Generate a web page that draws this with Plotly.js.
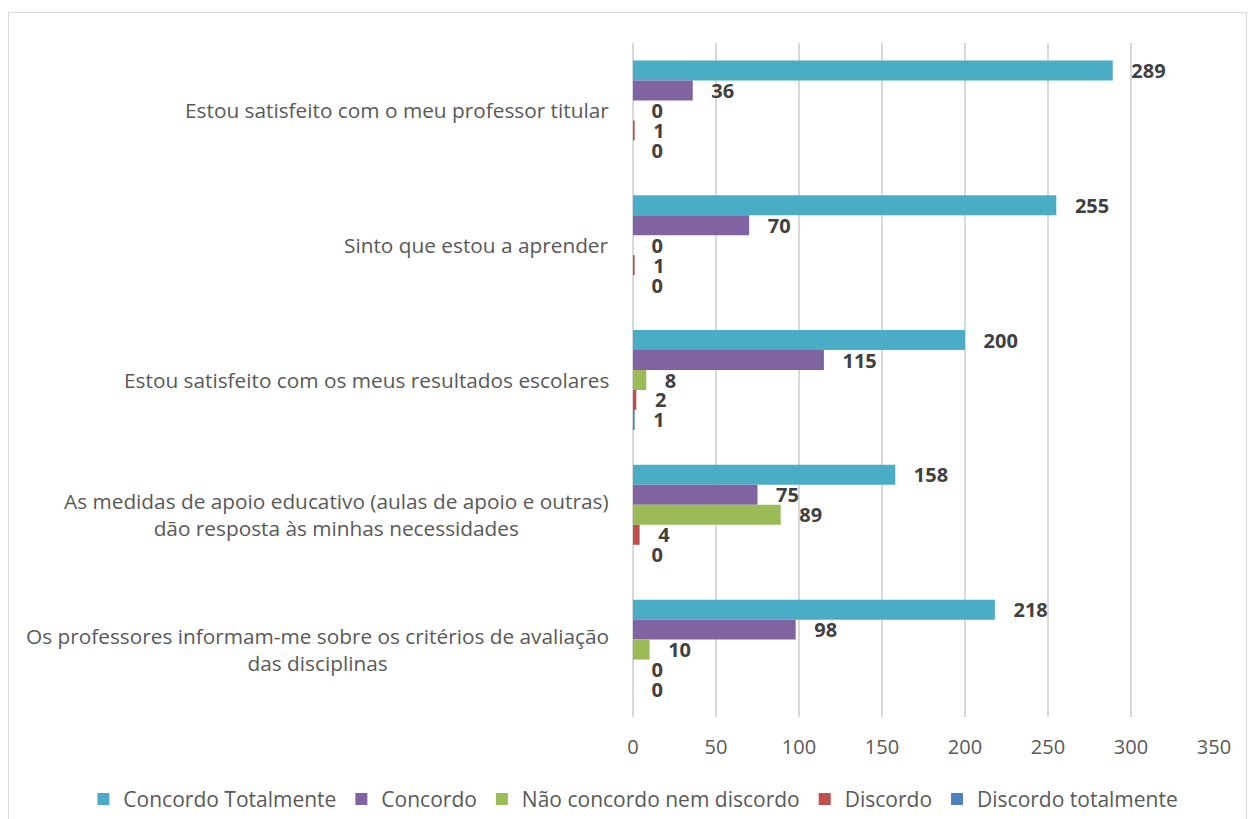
<!DOCTYPE html>
<html>
<head>
<meta charset="utf-8">
<script src="https://cdn.plot.ly/plotly-3.0.1.min.js"></script>
<style>
html,body{margin:0;padding:0;background:#fff;}
#wrap{position:relative;width:1250px;height:819px;overflow:hidden;}
#chart{width:1250px;height:819px;}
#frame{position:absolute;left:8px;top:12px;width:1239px;height:830px;border:1.5px solid #d9d9d9;pointer-events:none;box-sizing:border-box;}
</style>
</head>
<body>
<div id="wrap"><div id="chart"></div><div id="frame"></div></div>
<script>
const categories = [
  "Estou satisfeito com o meu professor titular",
  "Sinto que estou a aprender",
  "Estou satisfeito com os meus resultados escolares",
  "As medidas de apoio educativo (aulas de apoio e outras)<br>dão resposta às minhas necessidades",
  "Os professores informam-me sobre os critérios de avaliação<br>das disciplinas"
];
const seriesNames = ["Concordo Totalmente", "Concordo", "Não concordo nem discordo", "Discordo", "Discordo totalmente"];
const concordoTotalmente = [289, 255, 200, 158, 218];
const concordo = [36, 70, 115, 75, 98];
const naoConcordoNemDiscordo = [0, 0, 8, 89, 10];
const discordo = [1, 1, 2, 4, 0];
const discordoTotalmente = [0, 0, 1, 0, 0];
const xTicks = [0, 50, 100, 150, 200, 250, 300, 350];

const seriesValues = [concordoTotalmente, concordo, naoConcordoNemDiscordo, discordo, discordoTotalmente];
const colors = ["#4BACC6", "#8064A2", "#9BBB59", "#C0504D", "#4F81BD"];
const FONT = "'Open Sans', Lato, sans-serif";

const traces = seriesValues.map((vals, i) => ({
  type: "bar",
  orientation: "h",
  name: seriesNames[i],
  y: categories,
  x: vals,
  marker: {color: colors[i], line: {width: 0}},
  text: vals.map(v => String(v)),
  texttemplate: "\u00A0\u00A0\u00A0%{text}",
  textposition: "outside",
  constraintext: "none",
  cliponaxis: false,
  textfont: {family: FONT, size: 20, color: "#404040", weight: "bold"},
  hoverinfo: "x+name"
}));

const annotations = categories.map(c => ({
  xref: "paper", yref: "y", x: 0, y: c, xanchor: "right", yanchor: "middle",
  xshift: -22, text: c, showarrow: false, align: "center",
  font: {family: FONT, size: 20.8, color: "#595959"}
}));

const layout = {
  width: 1250, height: 819,
  margin: {l: 633, r: 36, t: 42.5, b: 101.5, autoexpand: false},
  paper_bgcolor: "#fff", plot_bgcolor: "#fff",
  barmode: "group",
  bargap: 0.259,
  bargroupgap: 0,
  font: {family: FONT, color: "#595959", size: 20},
  xaxis: {
    range: [0, 350], tickvals: xTicks, ticktext: xTicks.map(String),
    showgrid: true, gridcolor: "#d9d9d9", gridwidth: 1.5,
    zeroline: true, zerolinecolor: "#d9d9d9", zerolinewidth: 1.5,
    showline: false, ticks: "", ticklabelstandoff: 16,
    tickfont: {family: FONT, size: 20, color: "#595959"}
  },
  yaxis: {
    type: "category", autorange: "reversed",
    showticklabels: false, showgrid: false, zeroline: false, showline: false, ticks: ""
  },
  showlegend: true,
  legend: {
    orientation: "h", xref: "paper", yref: "paper",
    x: -0.946, xanchor: "left", y: -0.122, yanchor: "middle",
    font: {family: FONT, size: 21, color: "#595959"},
    traceorder: "normal", itemclick: false, itemwidth: 30
  },
  annotations: annotations
};

Plotly.newPlot("chart", traces, layout, {displayModeBar: false, staticPlot: true});
</script>
</body>
</html>
